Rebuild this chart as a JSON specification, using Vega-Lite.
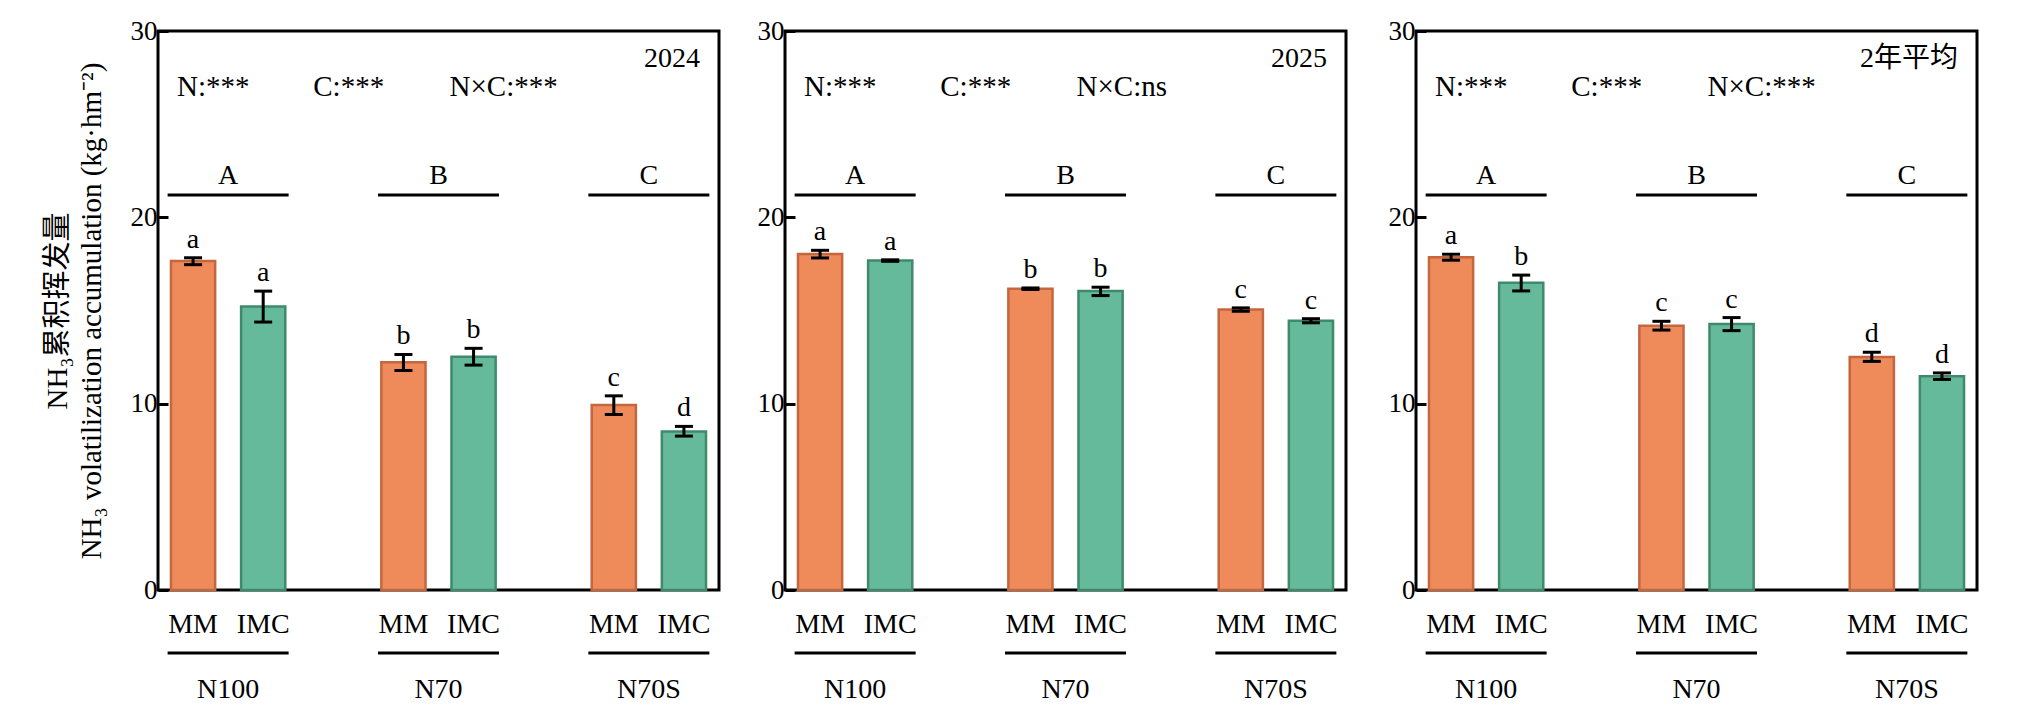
{
  "$schema": "https://vega.github.io/schema/vega-lite/v6.json",
  "padding": {"left": 41, "top": 15, "right": 5, "bottom": 5},
  "background": "white",
  "datasets": {
    "bars": [
      {"yr": "2024", "grp": "N100", "trt": "MM", "v": 17.65, "lo": 17.46, "hi": 17.83, "sig": "a", "gsig": "A"},
      {"yr": "2024", "grp": "N100", "trt": "IMC", "v": 15.22, "lo": 14.38, "hi": 16.04, "sig": "a", "gsig": "A"},
      {"yr": "2024", "grp": "N70", "trt": "MM", "v": 12.22, "lo": 11.78, "hi": 12.64, "sig": "b", "gsig": "B"},
      {"yr": "2024", "grp": "N70", "trt": "IMC", "v": 12.52, "lo": 12.07, "hi": 12.97, "sig": "b", "gsig": "B"},
      {"yr": "2024", "grp": "N70S", "trt": "MM", "v": 9.93, "lo": 9.42, "hi": 10.42, "sig": "c", "gsig": "C"},
      {"yr": "2024", "grp": "N70S", "trt": "IMC", "v": 8.51, "lo": 8.26, "hi": 8.78, "sig": "d", "gsig": "C"},
      {"yr": "2025", "grp": "N100", "trt": "MM", "v": 18.03, "lo": 17.82, "hi": 18.23, "sig": "a", "gsig": "A"},
      {"yr": "2025", "grp": "N100", "trt": "IMC", "v": 17.68, "lo": 17.64, "hi": 17.72, "sig": "a", "gsig": "A"},
      {"yr": "2025", "grp": "N70", "trt": "MM", "v": 16.17, "lo": 16.13, "hi": 16.21, "sig": "b", "gsig": "B"},
      {"yr": "2025", "grp": "N70", "trt": "IMC", "v": 16.04, "lo": 15.8, "hi": 16.25, "sig": "b", "gsig": "B"},
      {"yr": "2025", "grp": "N70S", "trt": "MM", "v": 15.05, "lo": 14.96, "hi": 15.14, "sig": "c", "gsig": "C"},
      {"yr": "2025", "grp": "N70S", "trt": "IMC", "v": 14.45, "lo": 14.34, "hi": 14.56, "sig": "c", "gsig": "C"},
      {"yr": "avg", "grp": "N100", "trt": "MM", "v": 17.86, "lo": 17.7, "hi": 18.02, "sig": "a", "gsig": "A"},
      {"yr": "avg", "grp": "N100", "trt": "IMC", "v": 16.49, "lo": 16.05, "hi": 16.9, "sig": "b", "gsig": "A"},
      {"yr": "avg", "grp": "N70", "trt": "MM", "v": 14.18, "lo": 13.95, "hi": 14.42, "sig": "c", "gsig": "B"},
      {"yr": "avg", "grp": "N70", "trt": "IMC", "v": 14.28, "lo": 13.92, "hi": 14.62, "sig": "c", "gsig": "B"},
      {"yr": "avg", "grp": "N70S", "trt": "MM", "v": 12.51, "lo": 12.27, "hi": 12.76, "sig": "d", "gsig": "C"},
      {"yr": "avg", "grp": "N70S", "trt": "IMC", "v": 11.47, "lo": 11.3, "hi": 11.65, "sig": "d", "gsig": "C"}
    ],
    "stats": [
      {"yr": "2024", "term": "N", "label": "N:***"},
      {"yr": "2024", "term": "C", "label": "C:***"},
      {"yr": "2024", "term": "NxC", "label": "N×C:***"},
      {"yr": "2025", "term": "N", "label": "N:***"},
      {"yr": "2025", "term": "C", "label": "C:***"},
      {"yr": "2025", "term": "NxC", "label": "N×C:ns"},
      {"yr": "avg", "term": "N", "label": "N:***"},
      {"yr": "avg", "term": "C", "label": "C:***"},
      {"yr": "avg", "term": "NxC", "label": "N×C:***"}
    ]
  },
  "spacing": 34,
  "hconcat": [
    {
      "width": 561,
      "height": 559,
      "title": {"text": "2024", "anchor": "end", "offset": -70, "dx": -19, "baseline": "middle"},
      "resolve": {"scale": {"x": "independent"}},
      "layer": [
        {
          "data": {"name": "bars"},
          "transform": [{"filter": "datum.yr == '2024'"}],
          "encoding": {
            "x": {"field": "grp", "type": "nominal", "sort": ["N100", "N70", "N70S"],
                  "scale": {"paddingInner": 0.3333, "paddingOuter": 0},
                  "axis": {"title": null, "domain": false, "ticks": false, "labelAngle": 0, "labelPadding": 85, "labelFontSize": 28}}
          },
          "layer": [
            {
              "mark": {"type": "bar", "strokeWidth": 2.5},
              "encoding": {
                "xOffset": {"field": "trt", "sort": ["MM", "IMC"], "scale": {"paddingInner": 0.37, "paddingOuter": 0.185}},
                "y": {"field": "v", "type": "quantitative", "scale": {"domain": [0, 30], "nice": false},
                      "title": ["NH₃累积挥发量", "NH₃ volatilization accumulation (kg·hm⁻²)"],
                      "axis": {"values": [0, 10, 20, 30]}},
                "fill": {"field": "trt", "scale": {"domain": ["MM", "IMC"], "range": ["#EF8B5A", "#66BA9C"]}, "legend": null},
                "stroke": {"field": "trt", "scale": {"domain": ["MM", "IMC"], "range": ["#C4663E", "#3F8A6C"]}, "legend": null}
              }
            },
            {
              "mark": {"type": "rule", "strokeWidth": 3, "color": "black"},
              "encoding": {
                "xOffset": {"field": "trt", "sort": ["MM", "IMC"]},
                "y": {"field": "lo", "type": "quantitative", "title": ["NH₃累积挥发量", "NH₃ volatilization accumulation (kg·hm⁻²)"]},
                "y2": {"field": "hi"}
              }
            },
            {
              "mark": {"type": "tick", "size": 18, "thickness": 3, "color": "black", "opacity": 1},
              "encoding": {
                "xOffset": {"field": "trt", "sort": ["MM", "IMC"]},
                "y": {"field": "lo", "type": "quantitative", "title": ["NH₃累积挥发量", "NH₃ volatilization accumulation (kg·hm⁻²)"]}
              }
            },
            {
              "mark": {"type": "tick", "size": 18, "thickness": 3, "color": "black", "opacity": 1},
              "encoding": {
                "xOffset": {"field": "trt", "sort": ["MM", "IMC"]},
                "y": {"field": "hi", "type": "quantitative", "title": ["NH₃累积挥发量", "NH₃ volatilization accumulation (kg·hm⁻²)"]}
              }
            },
            {
              "mark": {"type": "text", "baseline": "alphabetic", "dy": -10, "fontSize": 28},
              "encoding": {
                "xOffset": {"field": "trt", "sort": ["MM", "IMC"]},
                "y": {"field": "hi", "type": "quantitative", "title": ["NH₃累积挥发量", "NH₃ volatilization accumulation (kg·hm⁻²)"]},
                "text": {"field": "sig"}
              }
            },
            {
              "mark": {"type": "text", "baseline": "middle", "fontSize": 28},
              "encoding": {
                "xOffset": {"field": "trt", "sort": ["MM", "IMC"]},
                "y": {"datum": -1.9},
                "text": {"field": "trt"}
              }
            },
            {
              "transform": [{"filter": "datum.trt == 'MM'"}],
              "mark": {"type": "tick", "size": 121, "thickness": 3, "color": "black", "opacity": 1},
              "encoding": {"y": {"datum": 21.2}}
            },
            {
              "transform": [{"filter": "datum.trt == 'MM'"}],
              "mark": {"type": "text", "baseline": "alphabetic", "dy": -11, "fontSize": 28},
              "encoding": {"y": {"datum": 21.2}, "text": {"field": "gsig"}}
            },
            {
              "transform": [{"filter": "datum.trt == 'MM'"}],
              "mark": {"type": "tick", "size": 121, "thickness": 3, "color": "black", "opacity": 1},
              "encoding": {"y": {"datum": -3.38}}
            }
          ]
        },
        {
          "data": {"name": "stats"},
          "transform": [{"filter": "datum.yr == '2024'"}],
          "mark": {"type": "text", "align": "left", "baseline": "middle", "fontSize": 29},
          "encoding": {
            "x": {"field": "term", "type": "nominal", "sort": ["N", "C", "NxC"], "bandPosition": 0,
                  "scale": {"type": "band", "paddingInner": 0, "paddingOuter": 0.559, "align": 0.125}, "axis": null},
            "y": {"datum": 27.0},
            "text": {"field": "label"}
          }
        }
      ]
    },
    {
      "spacing": 38,
      "hconcat": [
        {
          "width": 561,
          "height": 559,
          "title": {"text": "2025", "anchor": "end", "offset": -70, "dx": -19, "baseline": "middle"},
          "resolve": {"scale": {"x": "independent"}},
          "layer": [
            {
              "data": {"name": "bars"},
              "transform": [{"filter": "datum.yr == '2025'"}],
              "encoding": {
                "x": {"field": "grp", "type": "nominal", "sort": ["N100", "N70", "N70S"],
                      "scale": {"paddingInner": 0.3333, "paddingOuter": 0},
                      "axis": {"title": null, "domain": false, "ticks": false, "labelAngle": 0, "labelPadding": 85, "labelFontSize": 28}}
              },
              "layer": [
                {
                  "mark": {"type": "bar", "strokeWidth": 2.5},
                  "encoding": {
                    "xOffset": {"field": "trt", "sort": ["MM", "IMC"], "scale": {"paddingInner": 0.37, "paddingOuter": 0.185}},
                    "y": {"field": "v", "type": "quantitative", "scale": {"domain": [0, 30], "nice": false}, "title": null,
                          "axis": {"values": [0, 10, 20, 30]}},
                    "fill": {"field": "trt", "scale": {"domain": ["MM", "IMC"], "range": ["#EF8B5A", "#66BA9C"]}, "legend": null},
                    "stroke": {"field": "trt", "scale": {"domain": ["MM", "IMC"], "range": ["#C4663E", "#3F8A6C"]}, "legend": null}
                  }
                },
                {
                  "mark": {"type": "rule", "strokeWidth": 3, "color": "black"},
                  "encoding": {
                    "xOffset": {"field": "trt", "sort": ["MM", "IMC"]},
                    "y": {"field": "lo", "type": "quantitative", "title": null},
                    "y2": {"field": "hi"}
                  }
                },
                {
                  "mark": {"type": "tick", "size": 18, "thickness": 3, "color": "black", "opacity": 1},
                  "encoding": {
                    "xOffset": {"field": "trt", "sort": ["MM", "IMC"]},
                    "y": {"field": "lo", "type": "quantitative", "title": null}
                  }
                },
                {
                  "mark": {"type": "tick", "size": 18, "thickness": 3, "color": "black", "opacity": 1},
                  "encoding": {
                    "xOffset": {"field": "trt", "sort": ["MM", "IMC"]},
                    "y": {"field": "hi", "type": "quantitative", "title": null}
                  }
                },
                {
                  "mark": {"type": "text", "baseline": "alphabetic", "dy": -10, "fontSize": 28},
                  "encoding": {
                    "xOffset": {"field": "trt", "sort": ["MM", "IMC"]},
                    "y": {"field": "hi", "type": "quantitative", "title": null},
                    "text": {"field": "sig"}
                  }
                },
                {
                  "mark": {"type": "text", "baseline": "middle", "fontSize": 28},
                  "encoding": {
                    "xOffset": {"field": "trt", "sort": ["MM", "IMC"]},
                    "y": {"datum": -1.9},
                    "text": {"field": "trt"}
                  }
                },
                {
                  "transform": [{"filter": "datum.trt == 'MM'"}],
                  "mark": {"type": "tick", "size": 121, "thickness": 3, "color": "black", "opacity": 1},
                  "encoding": {"y": {"datum": 21.2}}
                },
                {
                  "transform": [{"filter": "datum.trt == 'MM'"}],
                  "mark": {"type": "text", "baseline": "alphabetic", "dy": -11, "fontSize": 28},
                  "encoding": {"y": {"datum": 21.2}, "text": {"field": "gsig"}}
                },
                {
                  "transform": [{"filter": "datum.trt == 'MM'"}],
                  "mark": {"type": "tick", "size": 121, "thickness": 3, "color": "black", "opacity": 1},
                  "encoding": {"y": {"datum": -3.38}}
                }
              ]
            },
            {
              "data": {"name": "stats"},
              "transform": [{"filter": "datum.yr == '2025'"}],
              "mark": {"type": "text", "align": "left", "baseline": "middle", "fontSize": 29},
              "encoding": {
                "x": {"field": "term", "type": "nominal", "sort": ["N", "C", "NxC"], "bandPosition": 0,
                      "scale": {"type": "band", "paddingInner": 0, "paddingOuter": 0.559, "align": 0.125}, "axis": null},
                "y": {"datum": 27.0},
                "text": {"field": "label"}
              }
            }
          ]
        },
        {
          "width": 561,
          "height": 559,
          "title": {"text": "2年平均", "anchor": "end", "offset": -70, "dx": -19, "baseline": "middle"},
          "resolve": {"scale": {"x": "independent"}},
          "layer": [
            {
              "data": {"name": "bars"},
              "transform": [{"filter": "datum.yr == 'avg'"}],
              "encoding": {
                "x": {"field": "grp", "type": "nominal", "sort": ["N100", "N70", "N70S"],
                      "scale": {"paddingInner": 0.3333, "paddingOuter": 0},
                      "axis": {"title": null, "domain": false, "ticks": false, "labelAngle": 0, "labelPadding": 85, "labelFontSize": 28}}
              },
              "layer": [
                {
                  "mark": {"type": "bar", "strokeWidth": 2.5},
                  "encoding": {
                    "xOffset": {"field": "trt", "sort": ["MM", "IMC"], "scale": {"paddingInner": 0.37, "paddingOuter": 0.185}},
                    "y": {"field": "v", "type": "quantitative", "scale": {"domain": [0, 30], "nice": false}, "title": null,
                          "axis": {"values": [0, 10, 20, 30]}},
                    "fill": {"field": "trt", "scale": {"domain": ["MM", "IMC"], "range": ["#EF8B5A", "#66BA9C"]}, "legend": null},
                    "stroke": {"field": "trt", "scale": {"domain": ["MM", "IMC"], "range": ["#C4663E", "#3F8A6C"]}, "legend": null}
                  }
                },
                {
                  "mark": {"type": "rule", "strokeWidth": 3, "color": "black"},
                  "encoding": {
                    "xOffset": {"field": "trt", "sort": ["MM", "IMC"]},
                    "y": {"field": "lo", "type": "quantitative", "title": null},
                    "y2": {"field": "hi"}
                  }
                },
                {
                  "mark": {"type": "tick", "size": 18, "thickness": 3, "color": "black", "opacity": 1},
                  "encoding": {
                    "xOffset": {"field": "trt", "sort": ["MM", "IMC"]},
                    "y": {"field": "lo", "type": "quantitative", "title": null}
                  }
                },
                {
                  "mark": {"type": "tick", "size": 18, "thickness": 3, "color": "black", "opacity": 1},
                  "encoding": {
                    "xOffset": {"field": "trt", "sort": ["MM", "IMC"]},
                    "y": {"field": "hi", "type": "quantitative", "title": null}
                  }
                },
                {
                  "mark": {"type": "text", "baseline": "alphabetic", "dy": -10, "fontSize": 28},
                  "encoding": {
                    "xOffset": {"field": "trt", "sort": ["MM", "IMC"]},
                    "y": {"field": "hi", "type": "quantitative", "title": null},
                    "text": {"field": "sig"}
                  }
                },
                {
                  "mark": {"type": "text", "baseline": "middle", "fontSize": 28},
                  "encoding": {
                    "xOffset": {"field": "trt", "sort": ["MM", "IMC"]},
                    "y": {"datum": -1.9},
                    "text": {"field": "trt"}
                  }
                },
                {
                  "transform": [{"filter": "datum.trt == 'MM'"}],
                  "mark": {"type": "tick", "size": 121, "thickness": 3, "color": "black", "opacity": 1},
                  "encoding": {"y": {"datum": 21.2}}
                },
                {
                  "transform": [{"filter": "datum.trt == 'MM'"}],
                  "mark": {"type": "text", "baseline": "alphabetic", "dy": -11, "fontSize": 28},
                  "encoding": {"y": {"datum": 21.2}, "text": {"field": "gsig"}}
                },
                {
                  "transform": [{"filter": "datum.trt == 'MM'"}],
                  "mark": {"type": "tick", "size": 121, "thickness": 3, "color": "black", "opacity": 1},
                  "encoding": {"y": {"datum": -3.38}}
                }
              ]
            },
            {
              "data": {"name": "stats"},
              "transform": [{"filter": "datum.yr == 'avg'"}],
              "mark": {"type": "text", "align": "left", "baseline": "middle", "fontSize": 29},
              "encoding": {
                "x": {"field": "term", "type": "nominal", "sort": ["N", "C", "NxC"], "bandPosition": 0,
                      "scale": {"type": "band", "paddingInner": 0, "paddingOuter": 0.559, "align": 0.125}, "axis": null},
                "y": {"datum": 27.0},
                "text": {"field": "label"}
              }
            }
          ]
        }
      ]
    }
  ],
  "config": {
    "font": "Liberation Serif, Noto Sans CJK SC, serif",
    "view": {"stroke": "black", "strokeWidth": 3},
    "axis": {
      "labelFont": "Liberation Serif, Noto Sans CJK SC, serif",
      "titleFont": "Liberation Serif, Noto Sans CJK SC, serif",
      "labelFontSize": 27,
      "titleFontSize": 29,
      "titleFontWeight": "normal",
      "labelColor": "black",
      "titleColor": "black",
      "grid": false
    },
    "axisY": {
      "domain": false,
      "tickSize": -10,
      "tickWidth": 3,
      "tickColor": "black",
      "labelPadding": 11,
      "titlePadding": 24,
      "titleLineHeight": 34
    },
    "text": {"font": "Liberation Serif, Noto Sans CJK SC, serif", "fontSize": 27, "color": "black"},
    "title": {"font": "Liberation Serif, Noto Sans CJK SC, serif", "fontSize": 28, "fontWeight": "normal", "color": "black"}
  }
}
